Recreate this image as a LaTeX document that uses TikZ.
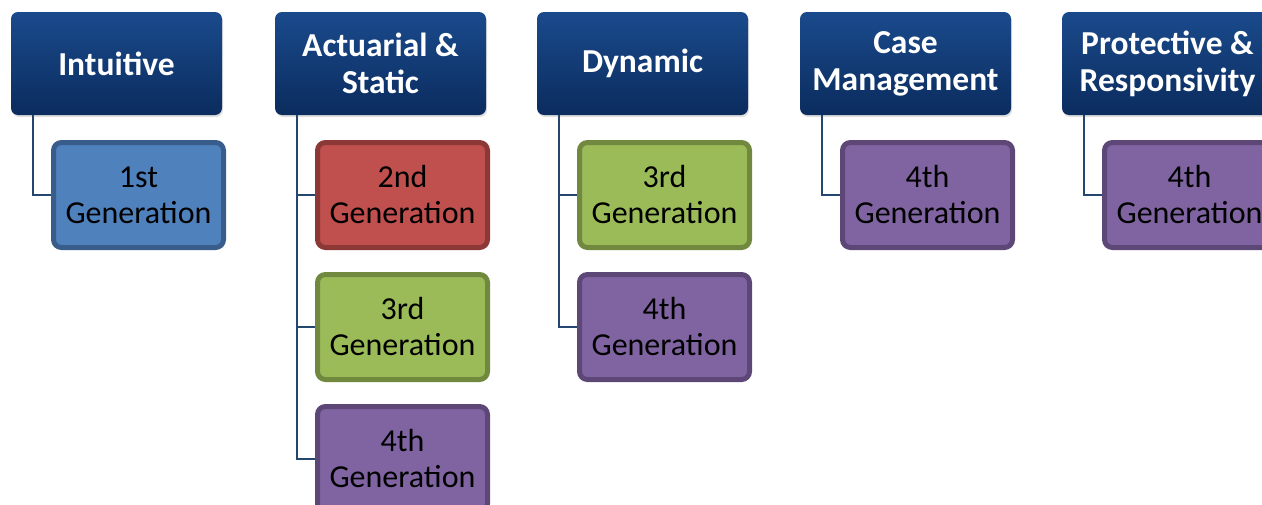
\documentclass[tikz,border=0pt]{standalone}
\usepackage{fontspec}
\setmainfont{Carlito}
\usetikzlibrary{shadows}
\definecolor{navytop}{HTML}{1A4A8C}
\definecolor{navybot}{HTML}{0B2C5E}
\definecolor{linkc}{HTML}{25466F}
\definecolor{gblue}{HTML}{4F81BD}\definecolor{gblueb}{HTML}{385D8A}
\definecolor{gred}{HTML}{C0504D}\definecolor{gredb}{HTML}{8C3836}
\definecolor{ggreen}{HTML}{9BBB59}\definecolor{ggreenb}{HTML}{71893F}
\definecolor{gpurple}{HTML}{8064A2}\definecolor{gpurpleb}{HTML}{5C4776}
\begin{document}
\begin{tikzpicture}[x=1pt,y=-1pt,
  head/.style={rounded corners=7pt, minimum width=211pt, minimum height=103pt,
    top color=navytop, bottom color=navybot, text=white, align=center, inner sep=0pt,
    font=\fontsize{33.5}{37}\selectfont\bfseries,
    drop shadow={shadow xshift=1pt, shadow yshift=-2pt, opacity=0.25}},
  gen/.style={rounded corners=8pt, line width=5pt, minimum width=170pt, minimum height=105pt,
    align=center, inner sep=0pt, font=\fontsize{32}{36}\selectfont},
  gblue/.style={gen, fill=gblue, draw=gblueb},
  gred/.style={gen, fill=gred, draw=gredb},
  ggreen/.style={gen, fill=ggreen, draw=ggreenb},
  gpurple/.style={gen, fill=gpurple, draw=gpurpleb},
  link/.style={draw=linkc, line width=2pt}]
\useasboundingbox (0,0) rectangle (1262,504);
\clip (0,0) rectangle (1262,504);

% column heads
\node[head] (h1) at (116.5,63.5) {Intuitive};
\node[head] (h2) at (380.5,63.5) {Actuarial \&\\Static};
\node[head] (h3) at (642.5,63.5) {Dynamic};
\node[head] (h4) at (905.5,63.5) {Case\\Management};
\node[head] (h5) at (1167.5,63.5) {Protective \&\\Responsivity};

% generations
\node[gblue]   (c11) at (138.5,195) {1st\\Generation};
\node[gred]    (c21) at (402.5,195) {2nd\\Generation};
\node[ggreen]  (c22) at (402.5,327) {3rd\\Generation};
\node[gpurple] (c23) at (402.5,459) {4th\\Generation};
\node[ggreen]  (c31) at (664.5,195) {3rd\\Generation};
\node[gpurple] (c32) at (664.5,327) {4th\\Generation};
\node[gpurple] (c41) at (927.5,195) {4th\\Generation};
\node[gpurple] (c51) at (1189.5,195) {4th\\Generation};

% connectors
\foreach \h/\c in {h1/c11, h2/c21, h2/c22, h2/c23, h3/c31, h3/c32, h4/c41, h5/c51}
  \draw[link] ([xshift=22.5pt]\h.south west) |- (\c.west);
\end{tikzpicture}
\end{document}
